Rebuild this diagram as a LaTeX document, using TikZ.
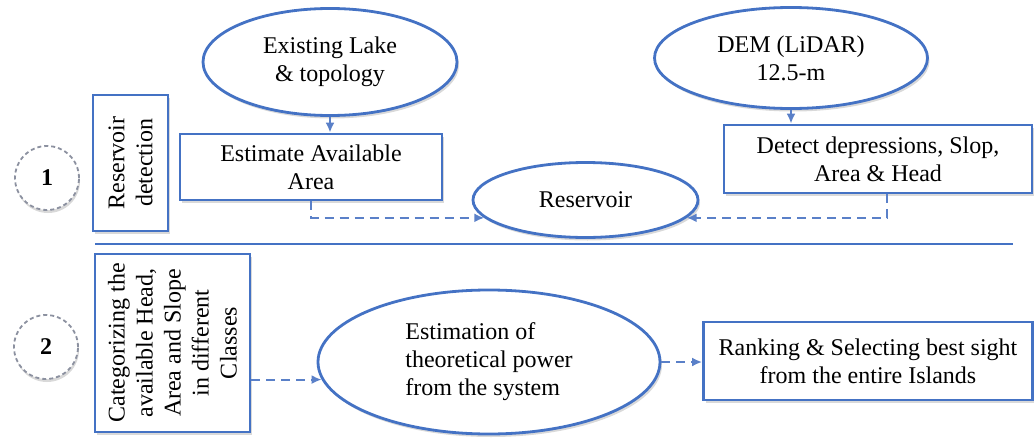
\documentclass[tikz,border=0pt]{standalone}
\usepackage{fontspec}
\setmainfont{Liberation Serif}
\usetikzlibrary{arrows.meta,shapes.geometric,shadows,calc}

\definecolor{boxblue}{RGB}{68,114,196}
\definecolor{arrblue}{RGB}{90,128,200}
\definecolor{ringgray}{RGB}{140,145,160}

\tikzset{
  txt/.style={font=\fontsize{24}{28}\selectfont, align=center, text=black},
  stagebox/.style={txt, draw=boxblue, line width=2.8pt, fill=white, inner sep=2pt,
    drop shadow={shadow xshift=2pt, shadow yshift=-3pt, opacity=0.3}},
  oval/.style={stagebox, ellipse, inner sep=0pt},
  ring/.style={circle, draw=ringgray, dashed, dash pattern=on 4pt off 3pt, line width=1.8pt,
    fill=white, minimum size=64pt, font=\fontsize{24}{28}\selectfont\bfseries,
    drop shadow={shadow xshift=1pt, shadow yshift=-3pt, opacity=0.3}},
  solidarr/.style={arrblue, line width=2pt, -{Latex[length=10pt,width=9pt]}},
  dasharr/.style={solidarr, dash pattern=on 9pt off 6pt}
}

\begin{document}
\begin{tikzpicture}[x=1pt, y=-1pt]

  \useasboundingbox (0,0) rectangle (1034,439);

  % step numbers
  \node[ring] (one) at (47,178) {1};
  \node[ring] (two) at (46,347) {2};

  % stage labels, turned upright
  \node[stagebox, rotate=90, minimum width=136pt, minimum height=75pt] (detlabel) at (130.5,163) {Reservoir\\detection};
  \node[stagebox, rotate=90, minimum width=178pt, minimum height=155pt] (catbox) at (172.5,343)
    {Categorizing the\\available Head,\\Area and Slope\\in different\\Classes};

  % divider between the two stages
  \draw[boxblue, line width=2.4pt] (95,244) -- (1013,244);

  % stage 1: reservoir detection
  \node[oval, minimum width=254pt, minimum height=107pt] (lake) at (330,62) {Existing Lake\\\& topology};
  \node[oval, minimum width=273pt, minimum height=101pt] (dem) at (791,58) {DEM (LiDAR)\\12.5-m};
  \node[stagebox, minimum width=262pt, minimum height=66pt] (estarea) at (311,167) {Estimate Available\\Area};
  \node[stagebox, minimum width=308pt, minimum height=68pt] (detect) at (878,159) {Detect depressions, Slop,\\Area \& Head};
  \node[oval, minimum width=225pt, minimum height=75pt] (resv) at (585.5,200) {Reservoir};

  \draw[solidarr] (lake) -- (lake |- estarea.north);
  \draw[solidarr] (dem) -- (dem |- detect.north);
  \draw[dasharr] ($(estarea.south west)!0.5!(estarea.south east)$) |- (resv.190);
  \draw[dasharr] ($(detect.south west)!0.53!(detect.south east)$) |- (resv.350);

  % stage 2: power estimate and ranking
  \node[oval, align=left, minimum width=342pt, minimum height=144pt] (power) at (489,362)
    {Estimation of\\theoretical power\\from the system};
  \node[stagebox, minimum width=329pt, minimum height=78pt] (rank) at (868,361)
    {Ranking \& Selecting best sight\\from the entire Islands};

  \draw[dasharr] (catbox.south |- power.186) -- (power.186);
  \draw[dasharr] (power.east) -- (rank.west |- power.east);

\end{tikzpicture}
\end{document}
